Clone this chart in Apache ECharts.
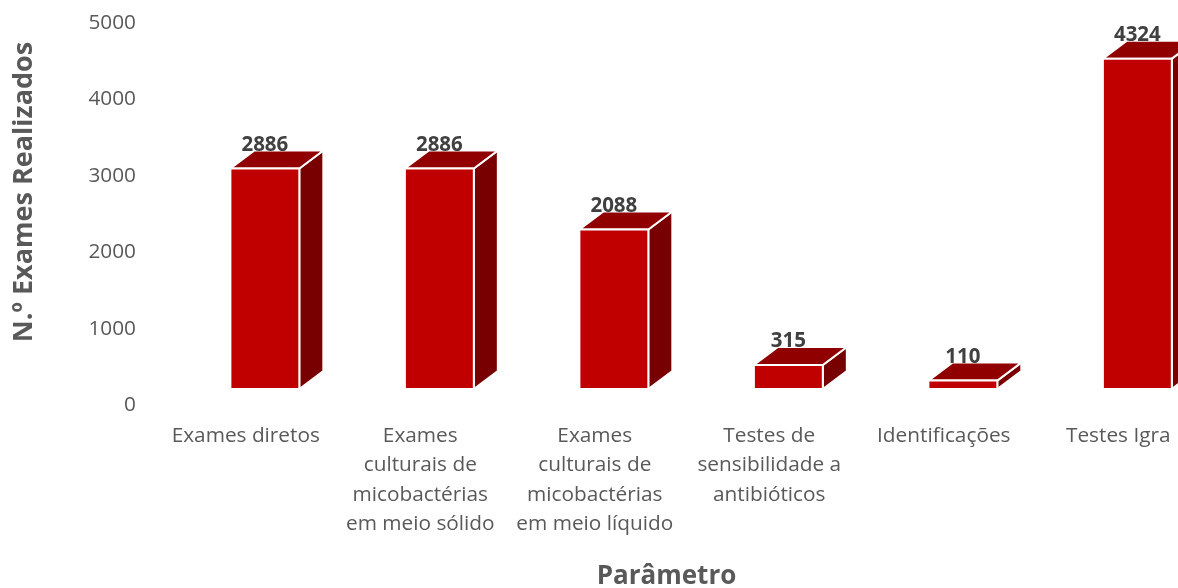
<!DOCTYPE html>
<html><head><meta charset="utf-8">
<style>html,body{margin:0;padding:0;background:#fff}#c{width:1178px;height:588px;overflow:hidden}</style>
<script src="https://cdn.jsdelivr.net/npm/echarts@6/dist/echarts.min.js"></script>
</head><body><div id="c"></div>
<script>
var categories = ["Exames diretos","Exames\nculturais de\nmicobactérias\nem meio sólido","Exames\nculturais de\nmicobactérias\nem meio líquido","Testes de\nsensibilidade a\nantibióticos","Identificações","Testes Igra"];
var values = [2886,2886,2088,315,110,4324];
var font = '"Open Sans"';
var chart = echarts.init(document.getElementById('c'), null, {renderer:'canvas'});
function renderBar(params, api){
  var i = api.value(0), v = api.value(1);
  var base = api.coord([i,0]), top = api.coord([i,v]);
  var band = api.size([1,0])[0];
  var w = band*0.395, off = band*0.1095, lift = 16, dx = 24, dy = 18;
  var x0 = base[0]+off-w/2, x1 = x0+w, yb = base[1]-lift, yt = top[1]-lift;
  var edge = {stroke:'#ffffff', lineWidth:2, lineJoin:'miter'};
  return {type:'group', children:[
    {type:'polygon', shape:{points:[[x1,yt],[x1+dx,yt-dy],[x1+dx,yb-dy],[x1,yb]]}, style:Object.assign({fill:'#780000'},edge)},
    {type:'polygon', shape:{points:[[x0,yt],[x0+dx,yt-dy],[x1+dx,yt-dy],[x1,yt]]}, style:Object.assign({fill:'#900000'},edge)},
    {type:'rect', shape:{x:x0,y:yt,width:w,height:yb-yt}, style:Object.assign({fill:'#C00000'},edge)},
    {type:'text', x:(x0+x1)/2, y:yt-23.5, style:{text:String(v), fill:'#404040', font:'bold 20.5px '+font, align:'center', verticalAlign:'middle'}}
  ]};
}
chart.setOption({
  animation:false,
  backgroundColor:'#fff',
  grid:{left:158.5, top:23, width:1047, height:382, containLabel:false, outerBoundsMode:'none'},
  xAxis:{type:'category', data:categories,
    name:'Parâmetro', nameLocation:'middle', nameGap:159,
    nameTextStyle:{fontFamily:font, fontWeight:'bold', fontSize:26, color:'#595959', padding:[0,31,0,0]},
    axisLine:{show:false}, axisTick:{show:false}, splitLine:{show:false},
    axisLabel:{interval:0, margin:16, fontFamily:font, fontSize:20.8, lineHeight:29.5, color:'#595959'}},
  yAxis:{type:'value', min:0, max:5000, interval:1000,
    name:'N.º Exames Realizados', nameLocation:'middle', nameGap:121, nameRotate:90,
    nameTextStyle:{fontFamily:font, fontWeight:'bold', fontSize:27, color:'#595959', padding:[0,0,0,44]},
    axisLine:{show:false}, axisTick:{show:false}, splitLine:{show:false},
    axisLabel:{margin:22.5, fontFamily:font, fontSize:20.8, color:'#595959', formatter:function(v){return String(v);}}},
  series:[{type:'custom', renderItem:renderBar, clip:false,
    encode:{x:0,y:1},
    data:values.map(function(v,i){return [i,v];})}]
});
</script></body></html>
